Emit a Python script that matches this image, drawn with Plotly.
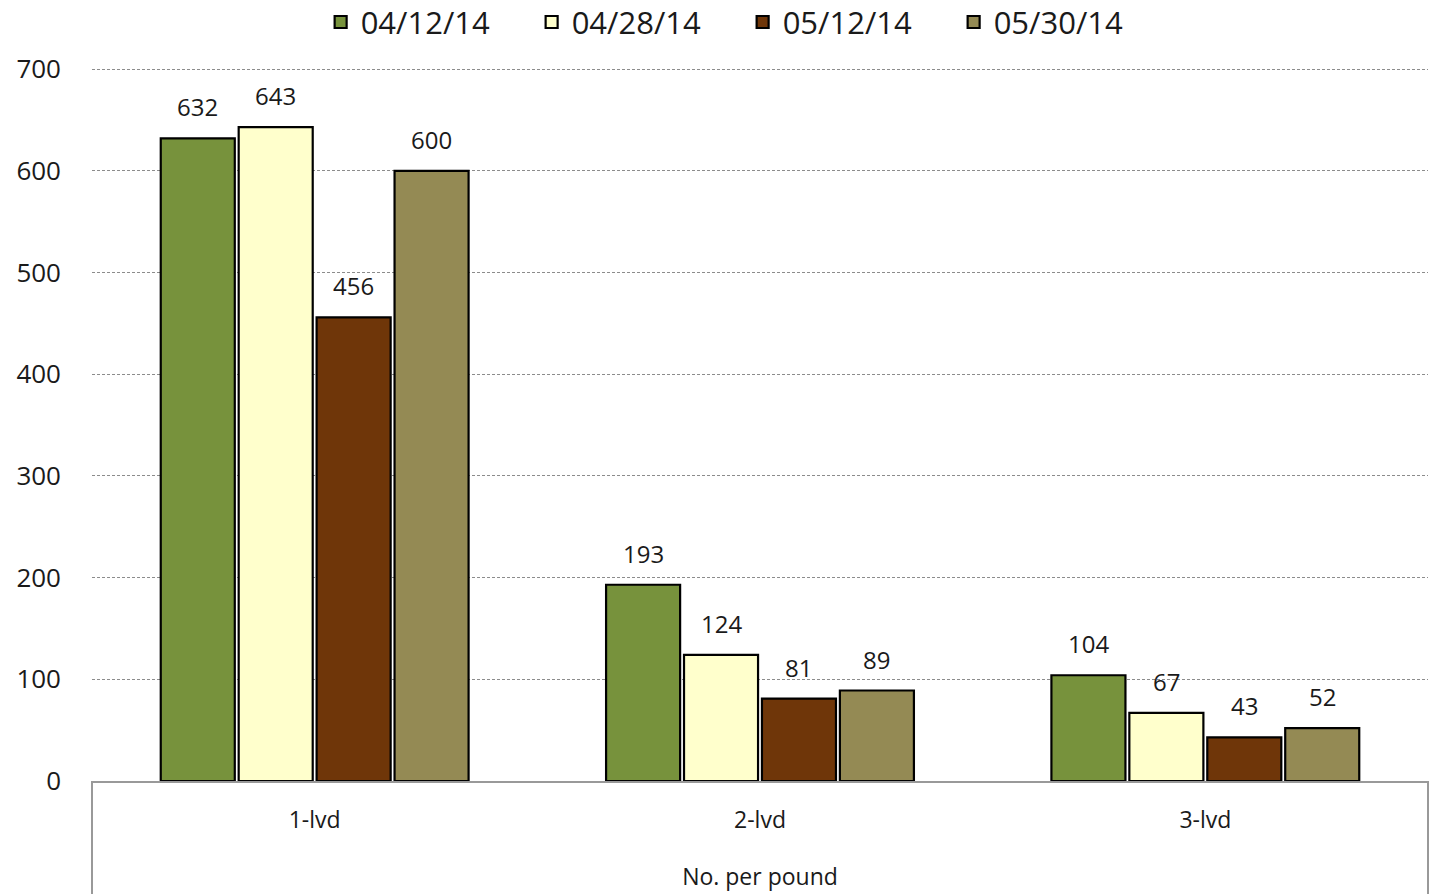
import plotly.graph_objects as go

categories = ["1-lvd", "2-lvd", "3-lvd"]
series_names = ["04/12/14", "04/28/14", "05/12/14", "05/30/14"]
values = {
    "04/12/14": [632, 193, 104],
    "04/28/14": [643, 124, 67],
    "05/12/14": [456, 81, 43],
    "05/30/14": [600, 89, 52],
}
colors = ["#77923C", "#FFFFCC", "#6F3609", "#948A54"]
y_ticks = [0, 100, 200, 300, 400, 500, 600, 700]

FONT = "Open Sans"
BARGAP = 0.3
GROUPGAP = 0.05

fig = go.Figure()
for name, col in zip(series_names, colors):
    fig.add_trace(go.Bar(
        x=categories, y=values[name], name=name,
        marker=dict(color=col, line=dict(color="#000000", width=2.2)),
    ))

n = len(series_names)
w = (1 - BARGAP) / n
for j, name in enumerate(series_names):
    for i, v in enumerate(values[name]):
        fig.add_annotation(
            x=i + (j - (n - 1) / 2) * w, y=v, xref="x", yref="y",
            text=str(v), showarrow=False, yanchor="bottom", yshift=13,
            font=dict(family=FONT, size=24, color="#1a1a1a"),
        )

for xp in [0, 1]:
    fig.add_shape(type="line", xref="paper", yref="paper",
                  x0=xp, x1=xp, y0=0, y1=-0.2,
                  line=dict(color="#999999", width=2))

fig.update_layout(
    width=1429, height=894,
    margin=dict(l=92, r=1, t=67, b=113),
    paper_bgcolor="white", plot_bgcolor="white",
    barmode="group", bargap=BARGAP, bargroupgap=GROUPGAP,
    font=dict(family=FONT, color="#1a1a1a"),
    showlegend=True,
    legend=dict(
        orientation="h", x=0.487, xanchor="center", y=0.975, yanchor="middle",
        yref="container", font=dict(family=FONT, size=31, color="#1a1a1a"),
        entrywidth=166, entrywidthmode="pixels", itemwidth=30,
        traceorder="normal",
    ),
    xaxis=dict(
        type="category", showgrid=False, showline=True, linecolor="#999999",
        linewidth=2, ticks="", tickfont=dict(family=FONT, size=23, color="#1a1a1a"),
        ticklabelstandoff=17,
        title=dict(text="No. per pound", font=dict(family=FONT, size=23, color="#1a1a1a"),
                   standoff=35),
    ),
    yaxis=dict(
        range=[0, 701], tickvals=y_ticks, showline=False,
        showgrid=True, gridcolor="#8c8c8c", gridwidth=1, griddash="3px,2px",
        zeroline=False, ticks="", ticklabelstandoff=30,
        tickfont=dict(family=FONT, size=26, color="#1a1a1a"),
    ),
)

fig.write_html("out.html")
